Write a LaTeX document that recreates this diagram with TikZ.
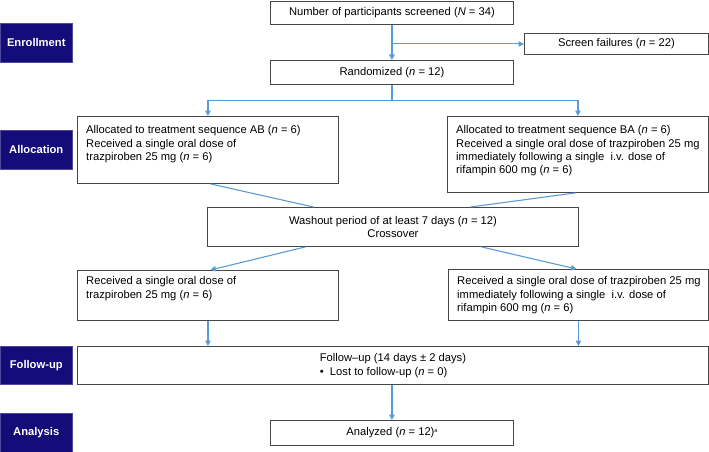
\documentclass[tikz,border=0pt]{standalone}
\usepackage{fontspec}
\setmainfont{Liberation Sans}
\usetikzlibrary{calc,arrows.meta}
\definecolor{navy}{RGB}{20,12,120}
\definecolor{arrowblue}{RGB}{91,155,213}
\definecolor{boxgray}{RGB}{70,70,70}
\begin{document}
\begin{tikzpicture}[x=1pt,y=-1pt,
  box/.style={draw=boxgray, line width=0.9pt, rectangle, inner sep=0pt, anchor=north west},
  lbl/.style={fill=navy, draw=navy!75, line width=0.5pt, text=white, font=\fontsize{11.2}{13.3}\selectfont\bfseries, anchor=north west, inner sep=0pt, minimum width=72pt},
  txt/.style={font=\fontsize{11.2}{13.3}\selectfont, inner sep=0pt, align=left},
  conn/.style={draw=arrowblue, line width=1.1pt},
  arr/.style={conn, -{Triangle[length=5.5pt,width=5.5pt]}}]
\useasboundingbox (0,0) rectangle (709,452);

% phase labels
\node[lbl, minimum height=39pt] (lenr) at (0,23) {Enrollment};
\node[lbl, minimum height=39pt] (lall) at (0,130) {Allocation};
\node[lbl, minimum height=38pt] (lfol) at (0,346) {Follow-up};
\node[lbl, minimum height=39pt] (lana) at (0,413) {Analysis};

% boxes
\node[box, txt, minimum width=243pt, minimum height=23pt, align=center] (screened) at (270,1) {Number of participants screened (\textit{N} = 34)};
\node[box, txt, minimum width=184pt, minimum height=21pt, align=center] (fail) at (524,33) {Screen failures (\textit{n} = 22)};
\node[box, txt, minimum width=243pt, minimum height=24pt, align=center] (rand) at (270,60) {Randomized (\textit{n} = 12)};

\node[box, minimum width=261pt, minimum height=67pt] (allocA) at (77,116) {};
\node[txt, anchor=north west] (allocAt) at (86,125.5) {Allocated to treatment sequence AB (\textit{n} = 6)\\Received a single oral dose of\\trazpiroben 25 mg (\textit{n} = 6)};
\node[box, minimum width=261pt, minimum height=76pt] (allocB) at (447,116) {};
\node[txt, anchor=north west] (allocBt) at (456,125.5) {Allocated to treatment sequence BA (\textit{n} = 6)\\Received a single oral dose of trazpiroben 25 mg\\immediately following a single~ i.v. dose of\\rifampin 600 mg (\textit{n} = 6)};

\node[box, txt, minimum width=371pt, minimum height=39pt, align=center] (wash) at (207,207) {Washout period of at least 7 days (\textit{n} = 12)\\Crossover};

\node[box, minimum width=261pt, minimum height=50pt] (recA) at (77,270) {};
\node[txt, anchor=north west] (recAt) at (86,276.5) {Received a single oral dose of\\trazpiroben 25 mg (\textit{n} = 6)};
\node[box, minimum width=260pt, minimum height=51pt] (recB) at (448,269) {};
\node[txt, anchor=north west] (recBt) at (457,276.5) {Received a single oral dose of trazpiroben 25 mg\\immediately following a single~ i.v. dose of\\rifampin 600 mg (\textit{n} = 6)};

\node[box, txt, minimum width=631pt, minimum height=38pt, align=left] (follow) at (77,346) {Follow–up (14 days ± 2 days)\\\textbullet\ \ Lost to follow-up (\textit{n} = 0)};
\node[box, txt, minimum width=243pt, minimum height=25pt, align=center] (analyzed) at (270,420) {Analyzed (\textit{n} = 12)\raisebox{3.5pt}{\fontsize{5.5}{6}\selectfont a}};

% connectors
\draw[arr] (screened.south) -- (rand.north);
\draw[arr] (screened.south |- fail.west) -- (fail.west);
\draw[conn] (rand.south) -- ++(0,16) coordinate (rb);
\draw[arr] (rb) -| (allocA.north);
\draw[arr] (rb) -| (allocB.north);
\draw[conn] ($(allocA.south)+(2.5,0)$) -- ($(wash.north)+(-79.5,0)$);
\draw[conn] ($(allocB.south)+(-2.5,0)$) -- ($(wash.north)+(77.5,0)$);
\draw[arr] ($(wash.south)+(-87.5,0)$) -- ($(recA.north)+(2.5,0)$);
\draw[arr] ($(wash.south)+(88.5,0)$) -- ($(recB.north)+(-2,0)$);
\draw[arr] (recA.south) -- (recA.south |- follow.north);
\draw[arr] (recB.south) -- (recB.south |- follow.north);
\draw[arr] (analyzed.north |- follow.south) -- (analyzed.north);
\end{tikzpicture}
\end{document}
